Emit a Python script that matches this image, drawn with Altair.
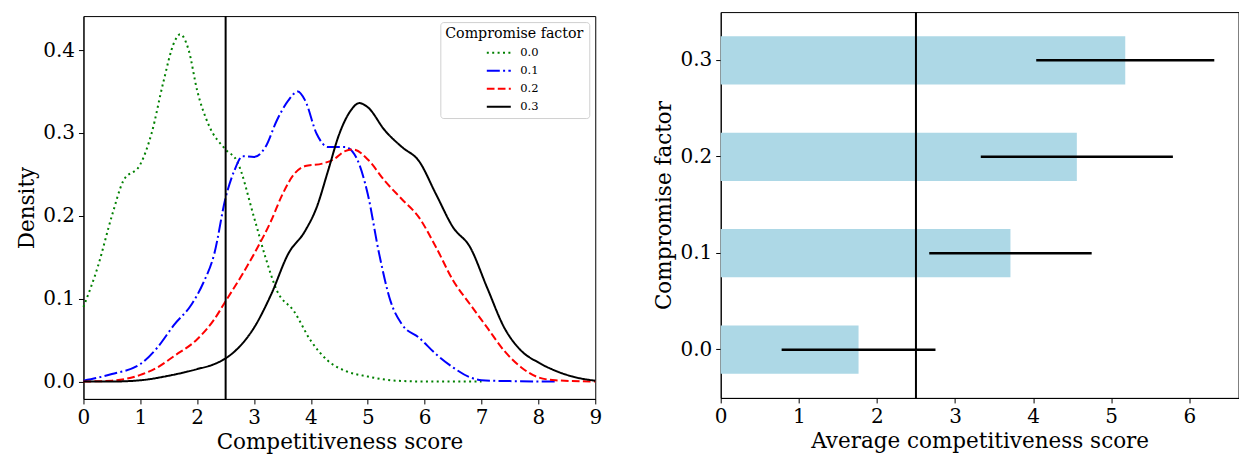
import altair as alt
import pandas as pd

FONT = "DejaVu Serif"

# ---------------- data ----------------
factors = ["0.0", "0.1", "0.2", "0.3"]
line_colors = ["green", "blue", "red", "black"]
line_dashes = [[2, 3.4], [13, 3.3, 2, 3.3], [7.7, 3.3], [1, 0]]

threshold = 2.5

# density curves
x_00 = [0.0, 0.25, 0.5, 0.7, 1.0, 1.2, 1.4, 1.6, 1.7, 1.85, 2.0, 2.2, 2.5, 2.7, 3.0, 3.2, 3.4, 3.7, 4.0, 4.3, 4.6, 5.0, 5.5, 6.0, 7.0]
d_00 = [0.09, 0.138, 0.20, 0.242, 0.262, 0.30, 0.36, 0.41, 0.419, 0.40, 0.351, 0.31, 0.28, 0.266, 0.198, 0.15, 0.11, 0.085, 0.049, 0.025, 0.013, 0.006, 0.001, 0.0, 0.0]

x_01 = [0.0, 0.5, 1.0, 1.3, 1.6, 1.9, 2.1, 2.3, 2.5, 2.65, 2.8, 3.0, 3.2, 3.4, 3.6, 3.77, 3.9, 4.1, 4.3, 4.6, 4.8, 5.0, 5.2, 5.4, 5.6, 5.9, 6.2, 6.5, 6.8, 7.0, 7.5, 8.3]
d_01 = [0.001, 0.009, 0.021, 0.041, 0.069, 0.093, 0.118, 0.154, 0.222, 0.254, 0.272, 0.271, 0.283, 0.315, 0.339, 0.350, 0.339, 0.299, 0.283, 0.283, 0.27, 0.226, 0.154, 0.097, 0.069, 0.053, 0.033, 0.017, 0.005, 0.0015, 0.0005, 0.0]

x_02 = [0.0, 0.5, 1.0, 1.3, 1.6, 2.0, 2.3, 2.5, 2.8, 3.0, 3.3, 3.5, 3.7, 3.9, 4.2, 4.4, 4.6, 4.75, 5.0, 5.3, 5.6, 5.9, 6.2, 6.5, 6.8, 7.1, 7.4, 7.7, 8.0, 8.3, 9.0]
d_02 = [0.0, 0.001, 0.008, 0.017, 0.031, 0.051, 0.075, 0.097, 0.13, 0.154, 0.194, 0.226, 0.25, 0.26, 0.263, 0.268, 0.278, 0.28, 0.268, 0.242, 0.22, 0.198, 0.162, 0.122, 0.093, 0.065, 0.037, 0.017, 0.005, 0.0015, 0.0]

x_03 = [0.0, 0.5, 1.0, 1.5, 2.0, 2.3, 2.5, 2.7, 3.0, 3.3, 3.6, 3.9, 4.1, 4.3, 4.5, 4.7, 4.85, 5.0, 5.3, 5.6, 5.9, 6.2, 6.5, 6.8, 7.1, 7.4, 7.7, 8.0, 8.3, 8.6, 9.0]
d_03 = [0.0, 0.0, 0.0015, 0.007, 0.015, 0.021, 0.028, 0.039, 0.065, 0.105, 0.154, 0.182, 0.21, 0.254, 0.299, 0.327, 0.336, 0.331, 0.303, 0.283, 0.266, 0.226, 0.186, 0.162, 0.113, 0.065, 0.037, 0.023, 0.013, 0.006, 0.001]

# bar panel
bar_factors = ["0.0", "0.1", "0.2", "0.3"]
avg_scores = [1.765, 3.71, 4.56, 5.18]
score_std = [0.985, 1.04, 1.23, 1.14]

density_ticks = [0.0, 0.1, 0.2, 0.3, 0.4]
score_ticks = list(range(10))
avg_ticks = list(range(7))

# ---------------- tables ----------------
rows = []
for f, xs, ds in zip(factors, [x_00, x_01, x_02, x_03], [d_00, d_01, d_02, d_03]):
    for xv, dv in zip(xs, ds):
        rows.append({"x": xv, "d": dv, "factor": f})
dens = pd.DataFrame(rows)

bars_df = pd.DataFrame({"factor": bar_factors, "mean": avg_scores, "std": score_std})
bars_df["lo"] = bars_df["mean"] - bars_df["std"]
bars_df["hi"] = bars_df["mean"] + bars_df["std"]

thr_df = pd.DataFrame({"v": [threshold]})

# ---------------- left panel ----------------
leg = alt.Legend(
    title="Compromise factor",
    orient="top-right",
    offset=6,
    fillColor="white",
    strokeColor="#d0d0d0",
    cornerRadius=3,
    padding=5,
    titleFont=FONT,
    titleFontSize=14.2,
    titleFontWeight="normal",
    titleColor="black",
    titleAnchor="middle",
    titlePadding=3,
    labelFont=FONT,
    labelFontSize=11.5,
    labelColor="black",
    labelOffset=13,
    symbolType="M-1.6,0H1.6",
    symbolSize=225,
    symbolStrokeWidth=2,
    symbolOffset=0,
    rowPadding=4,
)

xs_left = alt.X(
    "x:Q",
    scale=alt.Scale(domain=[0, 9], nice=False),
    axis=alt.Axis(title="Competitiveness score", values=score_ticks, format="d", labelFlush=False),
)

lines = alt.Chart(dens).mark_line(strokeWidth=2, interpolate="monotone").encode(
    x=xs_left,
    y=alt.Y(
        "d:Q",
        scale=alt.Scale(domain=[-0.021, 0.441], nice=False, zero=False),
        axis=alt.Axis(title="Density", values=density_ticks, format=".1f"),
    ),
    color=alt.Color("factor:N", scale=alt.Scale(domain=factors, range=line_colors), legend=leg),
    strokeDash=alt.StrokeDash("factor:N", scale=alt.Scale(domain=factors, range=line_dashes), legend=leg),
)

vline_left = alt.Chart(thr_df).mark_rule(color="black", strokeWidth=2).encode(x="v:Q")

left = alt.layer(lines, vline_left).properties(width=512, height=383)

# invisible spacer that drops the left panel slightly below the right one
spacer = (
    alt.Chart(thr_df)
    .mark_rule(strokeOpacity=0)
    .encode(y=alt.value(0))
    .properties(width=512, height=1, view=alt.ViewBackground(stroke="transparent"))
)
left_col = (
    alt.vconcat(spacer, left, spacing=0)
    .resolve_scale(color="independent", strokeDash="independent")
    .resolve_legend(color="independent", strokeDash="independent")
)

# ---------------- right panel ----------------
order = ["0.3", "0.2", "0.1", "0.0"]
yband = alt.Y(
    "factor:N",
    sort=order,
    scale=alt.Scale(paddingInner=0.5, paddingOuter=0.25),
    axis=alt.Axis(title="Compromise factor", labelAngle=0),
)
xs_right = alt.X(
    "mean:Q",
    scale=alt.Scale(domain=[0, 6.63], nice=False),
    axis=alt.Axis(title="Average competitiveness score", values=avg_ticks, format="d", labelFlush=False),
)

bars = alt.Chart(bars_df).mark_bar(color="#add8e6").encode(x=xs_right, y=yband)
errs = alt.Chart(bars_df).mark_rule(color="black", strokeWidth=2.5).encode(
    x="lo:Q", x2="hi:Q", y=alt.Y("factor:N", sort=order)
)
vline_right = alt.Chart(thr_df).mark_rule(color="black", strokeWidth=2).encode(x="v:Q")

right = alt.layer(bars, vline_right, errs).properties(width=518, height=386)

chart = (
    alt.hconcat(left_col, right, spacing=50.5)
    .resolve_scale(x="independent", y="independent", color="independent", strokeDash="independent")
    .resolve_legend(color="independent", strokeDash="independent")
    .properties(padding={"left": 15.5, "top": 10, "right": 0, "bottom": 0})
    .configure_axis(
        labelFont=FONT,
        titleFont=FONT,
        labelFontSize=20,
        titleFontSize=21.5,
        titleFontWeight="normal",
        labelColor="black",
        titleColor="black",
        domainColor="black",
        tickColor="black",
        tickSize=5,
        grid=False,
        labelPadding=4,
        titlePadding=4,
    )
    .configure_view(stroke="black", strokeWidth=1)
    .configure_title(font=FONT)
)

chart.save("out.html", embed_options={"renderer": "svg", "actions": False})
